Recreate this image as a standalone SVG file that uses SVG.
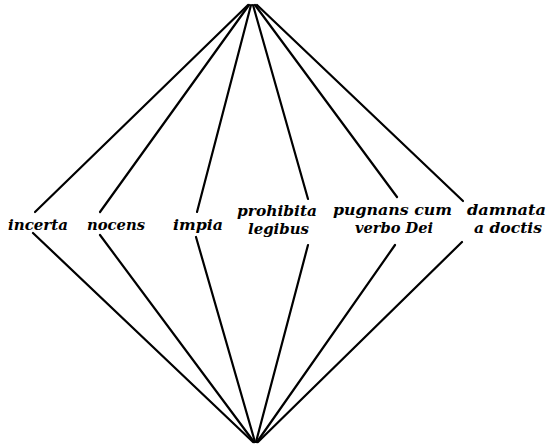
<svg xmlns="http://www.w3.org/2000/svg" width="549" height="445" viewBox="0 0 549 445">
<style>
.c line{stroke:#000;stroke-width:2.2;stroke-linecap:round;fill:none}
text{font-family:"DejaVu Serif","Liberation Serif",serif;font-style:italic;font-weight:bold;font-size:15px;fill:#000}
</style>
<rect width="549" height="445" fill="#fff"/>
<g id="connectors" class="c">
<line x1="248" y1="5" x2="35" y2="212"/>
<line x1="249" y1="5" x2="100" y2="212"/>
<line x1="251" y1="5" x2="197" y2="212"/>
<line x1="253" y1="5" x2="308" y2="199"/>
<line x1="255" y1="5" x2="397" y2="197"/>
<line x1="257" y1="5" x2="463" y2="201"/>
<line x1="33" y1="233" x2="253" y2="442"/>
<line x1="100" y1="235" x2="254" y2="442"/>
<line x1="196" y1="237" x2="255" y2="442"/>
<line x1="308" y1="245" x2="256" y2="442"/>
<line x1="395" y1="245" x2="257" y2="442"/>
<line x1="462" y1="242" x2="258" y2="442"/>
</g>
<g id="incerta"><text x="8" y="230" textLength="60" lengthAdjust="spacingAndGlyphs">incerta</text></g>
<g id="nocens"><text x="87" y="230" textLength="58" lengthAdjust="spacingAndGlyphs">nocens</text></g>
<g id="impia"><text x="173" y="230" textLength="50" lengthAdjust="spacingAndGlyphs">impia</text></g>
<g id="prohibita"><text x="237" y="216" textLength="80" lengthAdjust="spacingAndGlyphs">prohibita</text><text x="248" y="234" textLength="61" lengthAdjust="spacingAndGlyphs">legibus</text></g>
<g id="pugnans"><text x="333" y="215" textLength="119" lengthAdjust="spacingAndGlyphs">pugnans cum</text><text x="355" y="233" textLength="78" lengthAdjust="spacingAndGlyphs">verbo Dei</text></g>
<g id="damnata"><text x="467" y="215" textLength="79" lengthAdjust="spacingAndGlyphs">damnata</text><text x="474" y="233" textLength="68" lengthAdjust="spacingAndGlyphs">a doctis</text></g>
</svg>
